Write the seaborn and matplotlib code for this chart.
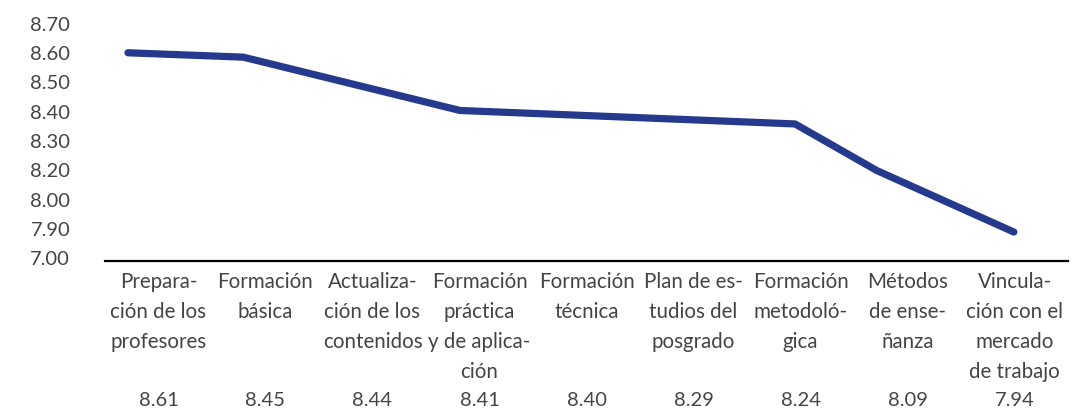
import matplotlib.pyplot as plt
import seaborn as sns
import pandas as pd

# categories shown under the axis, with the hyphenation of the original
categories = [
    "Prepara-\nción de los\nprofesores",
    "Formación\nbásica",
    "Actualiza-\nción de los\ncontenidos",
    "Formación\npráctica\ny de aplica-\nción",
    "Formación\ntécnica",
    "Plan de es-\ntudios del\nposgrado",
    "Formación\nmetodoló-\ngica",
    "Métodos\nde ense-\nñanza",
    "Vincula-\nción con el\nmercado\nde trabajo",
]
# values printed in the row under the labels
table_values = ["8.61", "8.45", "8.44", "8.41", "8.40", "8.29", "8.24", "8.09", "7.94"]

# vertices of the drawn line (category position, height on the axis)
line_x = [-0.285, 0.793, 2.818, 5.949, 6.712, 7.993]
line_y = [8.598, 8.583, 8.401, 8.355, 8.196, 7.986]

# y axis: tick positions and the labels the original puts on them
ytick_pos = [7.90, 8.00, 8.10, 8.20, 8.30, 8.40, 8.50, 8.60, 8.70]
ytick_labels = ["7.00", "7.90", "8.00", "8.20", "8.30", "8.40", "8.50", "8.60", "8.70"]

sns.set_theme(style="white")
plt.rcParams['font.family'] = ['Lato', 'DejaVu Sans']

text_color = "#444444"
line_color = "#253a8c"

df = pd.DataFrame({"x": line_x, "y": line_y})

fig = plt.figure(figsize=(10.91, 4.10), dpi=100)
ax = fig.add_axes([0.0962, 0.3602, 0.8828, 0.5958])

sns.lineplot(data=df, x="x", y="y", sort=False, ax=ax, color=line_color,
             linewidth=5.2, solid_capstyle="round", solid_joinstyle="round")

ax.set_xlim(-0.5, 8.5)
ax.set_ylim(7.886, 8.72)
ax.set_xticks(range(len(categories)))
ax.set_xticklabels(categories, fontsize=14.8, color=text_color, linespacing=1.62,
                   va="top")
ax.set_yticks(ytick_pos)
ax.set_yticklabels(ytick_labels, fontsize=14.5, color=text_color)
ax.tick_params(axis="x", length=0, pad=7)
ax.tick_params(axis="y", length=0, pad=25)
ax.set_xlabel("")
ax.set_ylabel("")

for s in ["top", "right", "left"]:
    ax.spines[s].set_visible(False)
ax.spines["bottom"].set_color("black")
ax.spines["bottom"].set_linewidth(1.6)

trans = ax.get_xaxis_transform()
for i, v in enumerate(table_values):
    ax.text(i, -0.564, v, transform=trans, ha="center", va="center",
            fontsize=14.5, color=text_color)

fig.savefig("out.png", dpi=100)
